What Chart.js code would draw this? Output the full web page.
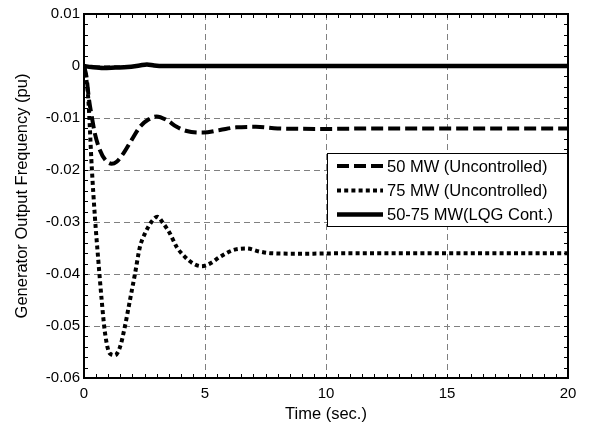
<!DOCTYPE html>
<html><head><meta charset="utf-8">
<script src="https://cdn.jsdelivr.net/npm/chart.js@4"></script>
<style>html,body{margin:0;padding:0;background:#fff;}</style>
</head><body>
<canvas id="c" width="591" height="427"></canvas>
<script>
// ---- data ----
const xTickValues = [0, 5, 10, 15, 20];
const yTickValues = [0.01, 0, -0.01, -0.02, -0.03, -0.04, -0.05, -0.06];
const seriesLabels = ['50 MW (Uncontrolled)', '75 MW (Uncontrolled)', '50-75 MW(LQG Cont.)'];

const t50 = [0, 0.1, 0.2, 0.32, 0.45, 0.66, 0.87, 1.14, 1.35, 1.63, 1.97, 2.31, 2.66, 3.0, 3.42, 3.83, 4.24, 4.93, 5.62, 6.3, 7.1, 8.0, 10, 12, 15, 20];
const f50 = [0, -0.002, -0.0062, -0.0097, -0.013, -0.0162, -0.018, -0.0188, -0.0184, -0.0168, -0.0142, -0.0117, -0.0103, -0.0097, -0.0104, -0.0117, -0.0125, -0.0128, -0.0123, -0.0118, -0.0117, -0.012, -0.0121, -0.012, -0.012, -0.012];

const t75 = [0, 0.08, 0.18, 0.32, 0.45, 0.59, 0.73, 0.87, 1.07, 1.28, 1.49, 1.69, 1.9, 2.11, 2.31, 2.52, 2.8, 3.03, 3.28, 3.55, 3.83, 4.17, 4.52, 4.86, 5.2, 5.62, 6.17, 6.72, 7.27, 7.7, 9, 11, 14, 20];
const f75 = [0, -0.002, -0.0065, -0.0194, -0.029, -0.0373, -0.045, -0.0514, -0.0553, -0.0556, -0.054, -0.0501, -0.045, -0.0399, -0.0348, -0.0322, -0.0299, -0.029, -0.0303, -0.0322, -0.0348, -0.0367, -0.038, -0.0385, -0.038, -0.0367, -0.0354, -0.0351, -0.0357, -0.036, -0.0361, -0.036, -0.036, -0.036];

const tLQG = [0, 0.3, 0.8, 1.3, 1.8, 2.3, 2.6, 2.9, 3.3, 4, 6, 10, 20];
const fLQG = [0, -0.0002, -0.0004, -0.0003, -0.0002, 0.0001, 0.0003, 0.0001, 0, 0, 0, 0, 0];

// ---- helpers ----
const pts = (xs, ys) => xs.map((x, i) => ({x, y: ys[i]}));
const FONT = "'Liberation Sans', Arial, Helvetica, sans-serif";

const lineStyles = [
  {dash: [12, 5], width: 4},
  {dash: [4, 3.2], width: 4},
  {dash: [], width: 4.5}
];

const boxAndTicks = {
  id: 'boxAndTicks',
  afterDatasetsDraw(chart) {
    const {ctx, chartArea: a, scales: {x, y}} = chart;
    ctx.save();
    ctx.strokeStyle = '#000';
    ctx.lineWidth = 1;
    ctx.beginPath();
    const L = 4;
    for (let k = 0; k <= 40; k++) {
      const px = Math.round(x.getPixelForValue(k * 0.5)) + 0.5;
      ctx.moveTo(px, a.bottom); ctx.lineTo(px, a.bottom - L);
      ctx.moveTo(px, a.top); ctx.lineTo(px, a.top + L);
    }
    for (let k = -30; k <= 5; k++) {
      const py = Math.round(y.getPixelForValue(k * 0.002)) + 0.5;
      ctx.moveTo(a.left, py); ctx.lineTo(a.left + L, py);
      ctx.moveTo(a.right, py); ctx.lineTo(a.right - L, py);
    }
    ctx.stroke();
    ctx.lineWidth = 2;
    ctx.strokeRect(a.left, a.top, a.right - a.left, a.bottom - a.top);

    // legend
    const lx1 = 327, ly1 = 153, lx2 = a.right, ly2 = 227;
    ctx.fillStyle = '#fff';
    ctx.fillRect(lx1, ly1, lx2 - lx1, ly2 - ly1);
    ctx.lineWidth = 1;
    ctx.strokeRect(lx1 + 0.5, ly1 + 0.5, lx2 - lx1 - 1, ly2 - ly1 - 1);
    const rows = [166, 190.5, 214.5];
    ctx.font = '16.5px ' + FONT;
    ctx.textBaseline = 'middle';
    ctx.textAlign = 'left';
    chart.data.datasets.forEach((ds, i) => {
      ctx.beginPath();
      ctx.setLineDash(ds.borderDash || []);
      ctx.lineWidth = ds.borderWidth;
      ctx.lineCap = 'butt';
      ctx.moveTo(337, rows[i]); ctx.lineTo(383, rows[i]);
      ctx.stroke();
      ctx.setLineDash([]);
      ctx.fillStyle = '#000';
      ctx.fillText(ds.label, 387, rows[i] + 1);
    });
    ctx.restore();
  }
};

new Chart(document.getElementById('c'), {
  type: 'line',
  data: {
    datasets: [
      {label: seriesLabels[0], data: pts(t50, f50)},
      {label: seriesLabels[1], data: pts(t75, f75)},
      {label: seriesLabels[2], data: pts(tLQG, fLQG)}
    ].map((d, i) => Object.assign(d, {
      borderColor: '#000', backgroundColor: '#000', fill: false,
      borderWidth: lineStyles[i].width, borderDash: lineStyles[i].dash,
      pointRadius: 0, cubicInterpolationMode: 'monotone', borderCapStyle: 'butt'
    }))
  },
  options: {
    responsive: false,
    animation: false,
    devicePixelRatio: 1,
    layout: {padding: {top: 14, right: 23, left: 0, bottom: 0}},
    plugins: {legend: {display: false}, tooltip: {enabled: false}},
    scales: {
      x: {
        type: 'linear', min: 0, max: 20,
        afterFit: s => { s.height = 49; },
        afterBuildTicks: s => { s.ticks = xTickValues.map(v => ({value: v})); },
        ticks: {color: '#000', font: {family: FONT, size: 15}, padding: 7, maxRotation: 0,
                callback: v => String(v)},
        grid: {color: '#808080', lineWidth: 1, drawTicks: false},
        border: {display: false, dash: [6, 4]},
        title: {display: true, text: 'Time (sec.)', color: '#000',
                font: {family: FONT, size: 16.5}, padding: {top: 3, bottom: 3}}
      },
      y: {
        type: 'linear', min: -0.06, max: 0.01,
        afterFit: s => { s.width = 84; },
        afterBuildTicks: s => { s.ticks = yTickValues.map(v => ({value: v})); },
        ticks: {color: '#000', font: {family: FONT, size: 15}, padding: 4,
                callback: v => String(Number(v.toFixed(3)))},
        grid: {color: '#808080', lineWidth: 1, drawTicks: false},
        border: {display: false, dash: [6, 4]},
        title: {display: true, text: 'Generator Output Frequency (pu)', color: '#000',
                font: {family: FONT, size: 16.5}, padding: {top: 13, bottom: 3}}
      }
    }
  },
  plugins: [boxAndTicks]
});
</script>
</body></html>
